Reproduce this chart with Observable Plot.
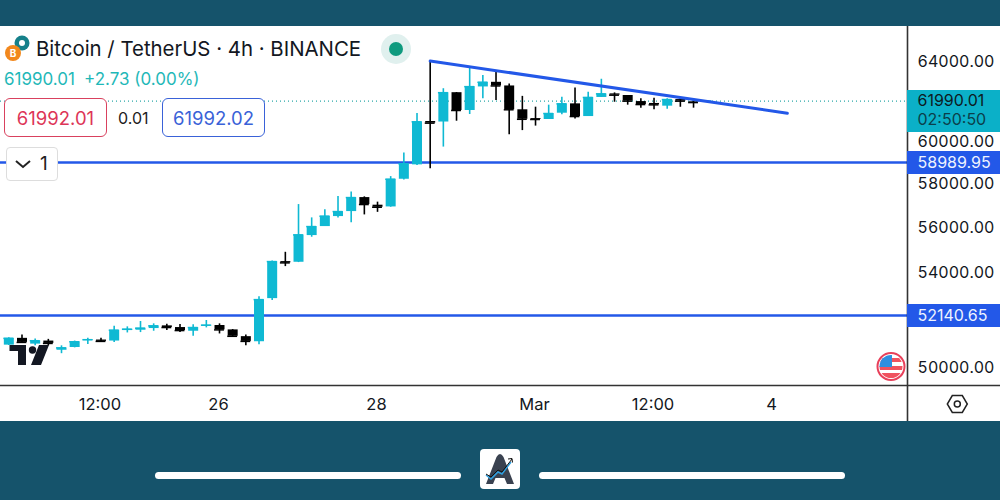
<!DOCTYPE html>
<html>
<head>
<meta charset="utf-8">
<script src="https://cdn.jsdelivr.net/npm/d3@7"></script>
<script src="https://cdn.jsdelivr.net/npm/@observablehq/plot@0.6"></script>
<style>
html,body{margin:0;padding:0;width:1000px;height:500px;overflow:hidden;background:#15536b;font-family:Inter,"Noto Sans",sans-serif}
#chart{position:absolute;left:0;top:26px;width:1000px;height:395px;background:#fff}
#chart svg{display:block;background:#fff}
.o{position:absolute;white-space:nowrap;line-height:1}
.pill{position:absolute;top:98px;width:101px;height:37px;border-radius:6px;background:#fff;border:1.5px solid;font-size:18.5px;display:flex;align-items:center;justify-content:center}
</style>
</head>
<body>
<div id="chart"></div>
<div class="o" style="left:36px;top:39px;font-size:20.4px;color:#131722" id="title">Bitcoin / TetherUS · 4h · BINANCE</div>
<div class="o" style="left:4px;top:70.500px;font-size:17px;color:#1fb8b8">61990.01<span style="margin-left:9px">+2.73 (0.00%)</span></div>
<div class="pill" style="left:4px;border-color:#d9415e;color:#dd3557">61992.01</div>
<div class="o" style="left:118px;top:110px;font-size:16px;color:#222">0.01</div>
<div class="pill" style="left:162px;border-color:#3a62d8;color:#3a62d8">61992.02</div>
<div class="o" style="left:6px;top:147px;width:50px;height:32px;background:#fff;border:1.5px solid #ddd;border-radius:4px"></div>
<div class="o" style="left:40px;top:154px;font-size:19px;color:#222">1</div>
<svg style="position:absolute;left:0;top:0;pointer-events:none" width="1000" height="500" viewBox="0 0 1000 500">
  <path d="M16 161l7 6 7-6" fill="none" stroke="#222" stroke-width="2"/>
  <circle cx="396" cy="49" r="15" fill="#e0f0ee"/><circle cx="396" cy="49" r="7" fill="#0e9a7e"/>
  <circle cx="22" cy="43" r="7.5" fill="#15808a"/><circle cx="22" cy="43" r="3" fill="#fff"/>
  <circle cx="13" cy="53" r="8" fill="#f2881c"/><text x="13" y="57" font-size="10" font-weight="700" fill="#fff" text-anchor="middle" font-family="Inter">B</text>
  <path d="M9.500 345H26V365H18V351H9.500Z M39 345H49L41 365H31Z" fill="#131722"/><circle cx="32.500" cy="350" r="3.700" fill="#131722"/>
  <clipPath id="fl"><circle cx="891" cy="366.500" r="11.500"/></clipPath>
  <circle cx="891" cy="366.500" r="13.500" fill="#fff" stroke="#e8405a" stroke-width="2"/>
  <g clip-path="url(#fl)"><rect x="878" y="354" width="26" height="25" fill="#fff"/><rect x="878" y="358" width="26" height="4" fill="#f0525f"/><rect x="878" y="366" width="26" height="4" fill="#f0525f"/><rect x="878" y="373" width="26" height="7" fill="#f0525f"/><rect x="878" y="354" width="14" height="13" fill="#2f8fe0"/></g>
  <path d="M952.300 395.500h10l5 8.500-5 8.500h-10l-5-8.500z" fill="none" stroke="#222" stroke-width="1.500"/><circle cx="957.300" cy="404" r="3" fill="none" stroke="#222" stroke-width="1.500"/>
  <rect x="155" y="472" width="306" height="7" rx="3.500" fill="#fff"/><rect x="539" y="472" width="306" height="7" rx="3.500" fill="#fff"/>
  <rect x="480" y="449" width="40" height="40" rx="4" fill="#fff"/>
  <path d="M486 484L496.500 457Q500 451 503.500 457L514 484H507L504.500 478H495.500L493 484Z" fill="#3a4250"/>
  <path d="M486 475l5 4 7-7 4 2 9-12" fill="none" stroke="#2e9fe0" stroke-width="1.500"/><path d="M486 474l5 3 7-7 4 2 10-13m-4 0l4-.5l.5 4" fill="none" stroke="#111" stroke-width="1"/>
</svg>
<script>
const startTime = new Date(Date.UTC(2024, 1, 23, 8));
const opens  = [50910,51190,50952,51078,50700,50812,51092,51120,51078,51512,51526,51596,51708,51638,51484,51694,51722,51540,51260,51050,52857,54460,54430,55615,56020,56474,56702,57346,56995,56915,58200,58880,60975,60950,62410,61520,62700,62935,62750,61555,61120,61075,61385,61850,61220,62170,62350,62270,61965,61870,61735,62065,61950,61987.28];
const closes = [51190,51022,51092,50980,50798,51050,51134,51064,51526,51568,51610,51708,51638,51512,51638,51736,51540,51274,51064,52814,54460,54403,55645,56020,56490,56702,57346,57025,56900,58200,58930,60960,60895,62410,61520,62715,62935,62750,61555,61085,61075,61370,61850,61220,62170,62350,62285,61985,61815,61800,62065,61985,61915,61990.01];
const highs  = [51218,51330,51162,51148,50882,51078,51190,51190,51694,51666,51890,51792,51778,51764,51750,51932,51792,51554,51330,52940,54482,54870,57024,56414,56780,57393,57610,57380,57135,58325,59450,61370,64050,62610,62420,63675,63280,63500,62855,62225,61685,61785,62180,62650,62435,63090,62400,62270,62100,62130,62100,62150,61985,62010];
const lows   = [50896,51008,50882,50882,50560,50798,50938,51022,51022,51414,51428,51484,51512,51428,51274,51624,51372,51260,50882,50930,52772,54240,54416,55540,56020,56414,56188,56550,56667,56900,58170,58850,58690,59730,60990,61320,62100,62020,60330,60530,60750,61075,61305,61105,61220,62170,61930,61785,61635,61555,61585,61680,61635,61960];

const priceTicks = [50000, 54000, 56000, 58000, 60000, 64000];
const levels = [58989.95, 52140.65];
const lastPrice = 61990.01;
const countdown = "02:50:50";
const timeTickDates = [new Date(Date.UTC(2024,1,24,12)), new Date(Date.UTC(2024,1,26)), new Date(Date.UTC(2024,1,28)), new Date(Date.UTC(2024,2,1)), new Date(Date.UTC(2024,2,2,12)), new Date(Date.UTC(2024,2,4))];
const timeTickLabels = ["12:00","26","28","Mar","12:00","4"];
const trendTimes = [new Date(Date.UTC(2024,1,28,16)), new Date(Date.UTC(2024,2,4,4,30))];
const trendPrices = [64025, 61385];

const H = 3600e3;
const candles = opens.map((o,i)=>({t:new Date(+startTime+i*4*H),o,c:closes[i],h:highs[i],l:lows[i],up:closes[i]>=o}));
const UP = "#0fb9d3", DOWN = "#000";
const BLUE = "#2358e8", TAG = "#0bb0c8";
const xDomain = [new Date(Date.UTC(2024,1,26)-66.53*H), new Date(Date.UTC(2024,1,26)+209*H)];
const panelEnd = new Date(+xDomain[1] + 28.3*H);
const yDomain = [49279, 65833];
const stripBottom = 47867;
const color = d => d.up ? UP : DOWN;
const font = "Inter";

const plot = Plot.plot({
  width: 1000, height: 395,
  marginTop: 0, marginBottom: 36, marginLeft: 0, marginRight: 93,
  style: {fontFamily: font, background: "#fff", overflow: "visible"},
  x: {type: "utc", domain: xDomain, axis: null},
  y: {type: "log", domain: yDomain, axis: null},
  marks: [
    Plot.ruleY([lastPrice], {x1: xDomain[0], x2: xDomain[1], stroke: "#2aa8a8", strokeWidth: 1.2, strokeDasharray: "1 3"}),
    Plot.ruleY(levels, {x1: xDomain[0], x2: xDomain[1], stroke: BLUE, strokeWidth: 2.6}),
    Plot.ruleX(candles, {x: "t", y1: "l", y2: "h", stroke: color, strokeWidth: 1.6}),
    Plot.ruleX(candles, {x: "t", y1: "o", y2: "c", stroke: color, strokeWidth: 10}),
    Plot.ruleY(candles, {y: "c", x1: d => new Date(+d.t-1.5*H), x2: d => new Date(+d.t+1.5*H), stroke: color, strokeWidth: 1.5}),
    Plot.line(trendTimes.map((t,i)=>({t,p:trendPrices[i]})), {x: "t", y: "p", stroke: BLUE, strokeWidth: 3}),
    Plot.ruleY([yDomain[0]], {x1: xDomain[0], x2: panelEnd, stroke: "#333", strokeWidth: 1.6}),
    Plot.ruleX([xDomain[1]], {y1: stripBottom, y2: yDomain[1], stroke: "#333", strokeWidth: 1.6}),
    Plot.axisY(priceTicks, {anchor: "right", tickSize: 0, tickPadding: 10, dy: 0.5, tickFormat: d3.format(".2f"), fontSize: 16, fill: "#131722", label: null}),
    Plot.ruleY([lastPrice], {x1: xDomain[1], x2: panelEnd, dy: 10, stroke: TAG, strokeWidth: 42}),
    Plot.ruleY(levels, {x1: xDomain[1], x2: panelEnd, stroke: BLUE, strokeWidth: 23}),
    Plot.text([lastPrice], {x: xDomain[1], y: d=>d, text: d3.format(".2f"), textAnchor: "start", dx: 10, fontSize: 16, fill: "#0d1a22"}),
    Plot.text([countdown], {x: xDomain[1], y: [lastPrice], text: d=>d, textAnchor: "start", dx: 10, dy: 19, fontSize: 16, fill: "#0b3f4b"}),
    Plot.text(levels, {x: xDomain[1], y: d=>d, text: d3.format(".2f"), textAnchor: "start", dx: 10, fontSize: 16, fill: "#eef3ff"}),
    Plot.text(timeTickDates, {x: d=>d, frameAnchor: "bottom", lineAnchor: "middle", dy: 19, dx: -1, text: (d,i)=>timeTickLabels[i], fontSize: 16.5, fontWeight: (d,i)=>timeTickLabels[i]==="Mar"?700:400, fill: "#131722"})
  ]
});
document.getElementById("chart").appendChild(plot);
</script>
</body>
</html>
